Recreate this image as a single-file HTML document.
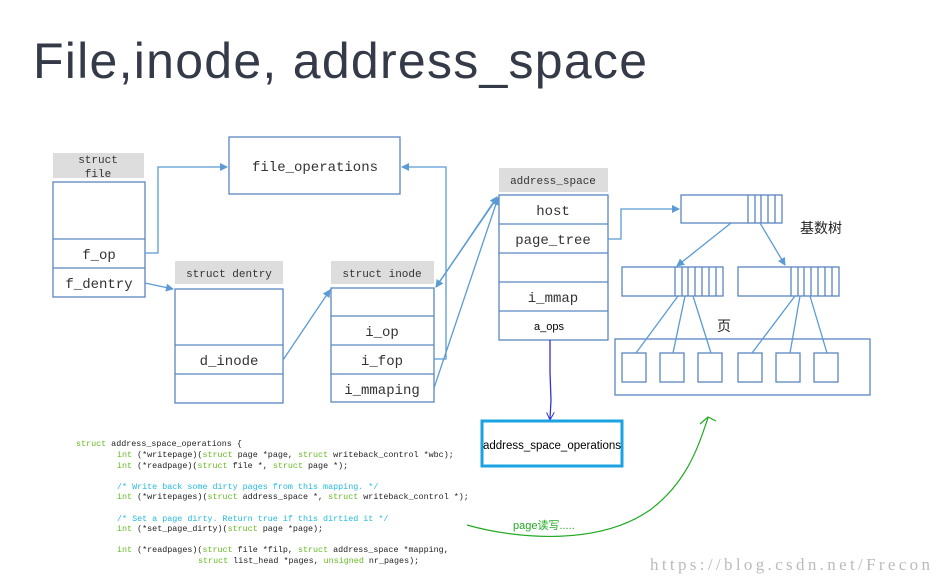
<!DOCTYPE html>
<html><head><meta charset="utf-8"><style>body{margin:0;background:#fff}svg{display:block}</style></head><body>
<svg width="943" height="582" xmlns="http://www.w3.org/2000/svg" font-family="Liberation Mono, monospace">
<defs><marker id="a" markerWidth="8" markerHeight="8" refX="7" refY="4" orient="auto" markerUnits="userSpaceOnUse"><path d="M0,0L8,4L0,8z" fill="#5b9bd5"/></marker>
<marker id="b" markerWidth="8" markerHeight="8" refX="7" refY="4" orient="auto" markerUnits="userSpaceOnUse"><path d="M0,0L8,4L0,8" fill="none" stroke="#3333cc"/></marker></defs>
<text x="33" y="78" font-family="Liberation Sans, sans-serif" font-size="50" fill="#353a48" textLength="614">File,inode, address_space</text>
<g fill="#ddd"><rect x="53" y="153" width="91" height="25"/><rect x="175" y="261" width="108" height="23"/><rect x="331" y="261" width="103" height="23"/><rect x="499" y="168" width="109" height="24"/></g>
<g font-size="11" fill="#333" text-anchor="middle"><text x="98" y="163">struct</text><text x="98" y="177">file</text><text x="229" y="277">struct dentry</text><text x="382" y="277">struct inode</text><text x="553" y="184">address_space</text></g>
<g fill="none" stroke="#5b86c0" stroke-width="1.3">
<rect x="53" y="182" width="92" height="115"/><path d="M53 239H145M53 268H145"/>
<rect x="229" y="137" width="171" height="57"/>
<rect x="175" y="289" width="108" height="114"/><path d="M175 345H283M175 374H283"/>
<rect x="331" y="288" width="103" height="114"/><path d="M331 316H434M331 345H434M331 374H434"/>
<rect x="499" y="195" width="109" height="145"/><path d="M499 224H608M499 253H608M499 282H608M499 311H608"/>
<rect x="681" y="195" width="101" height="28"/><path d="M748 195v28M755 195v28M761 195v28M768 195v28M775 195v28"/>
<rect x="622" y="267" width="101" height="29"/><path d="M675 267v29M682 267v29M688 267v29M695 267v29M702 267v29M709 267v29M716 267v29"/>
<rect x="738" y="267" width="101" height="29"/><path d="M791 267v29M798 267v29M804 267v29M811 267v29M818 267v29M825 267v29M832 267v29"/>
<rect x="615" y="339" width="255" height="56"/>
<rect x="622" y="353" width="24" height="29"/><rect x="660" y="353" width="24" height="29"/><rect x="698" y="353" width="24" height="29"/><rect x="738" y="353" width="24" height="29"/><rect x="776" y="353" width="24" height="29"/><rect x="814" y="353" width="24" height="29"/>
</g>
<g fill="none" stroke="#5b9bd5" stroke-width="1.3">
<path d="M145 253H158V167H227" marker-end="url(#a)"/>
<path d="M145 283L173 289" marker-end="url(#a)"/>
<path d="M283 360L330 290" marker-end="url(#a)"/>
<path d="M434 359H446V167H402" marker-end="url(#a)"/>
<path d="M434 388L498 198" marker-end="url(#a)"/>
<path d="M497 198L436 287" marker-end="url(#a)"/>
<path d="M436 287L497 197" marker-end="url(#a)"/>
<path d="M608 239H621V209H679" marker-end="url(#a)"/>
<path d="M731 223L677 266" marker-end="url(#a)"/>
<path d="M760 223L785 265" marker-end="url(#a)"/>
<path d="M678 296L636 353M685 296L673 353M693 296L711 353M795 296L752 353M800 296L790 353M810 296L827 353"/>
</g>
<path d="M550 340L550 372L551 400L550 419" stroke="#3333cc" stroke-width="1.3" fill="none" marker-end="url(#b)"/>
<rect x="482" y="421" width="140" height="45" fill="none" stroke="#1aa3e0" stroke-width="3"/>
<text x="552" y="449" font-family="Liberation Sans, sans-serif" font-size="11.5" text-anchor="middle" fill="#000">address_space_operations</text>
<g font-size="14" fill="#333" text-anchor="middle"><text x="315" y="171">file_operations</text><text x="99" y="259">f_op</text><text x="99" y="288">f_dentry</text><text x="229" y="365">d_inode</text><text x="382" y="336">i_op</text><text x="382" y="365">i_fop</text><text x="382" y="394">i_mmaping</text><text x="553" y="215">host</text><text x="553" y="244">page_tree</text><text x="553" y="302">i_mmap</text></g>
<text x="549" y="330" font-family="Liberation Sans, sans-serif" font-size="11" text-anchor="middle" fill="#000">a_ops</text>
<text x="800" y="233" font-family="Liberation Sans, Noto Sans CJK SC, sans-serif" font-size="14" fill="#222">基数树</text>
<text x="717" y="331" font-family="Liberation Sans, Noto Sans CJK SC, sans-serif" font-size="14" fill="#222">页</text>
<path d="M467 525C520 540 600 545 650 510C690 480 700 440 708 418M700 424L708 417L716 421" stroke="#22aa22" stroke-width="1.2" fill="none"/>
<text x="513" y="529" font-family="Liberation Sans, Noto Sans CJK SC, sans-serif" font-size="11" fill="#22aa22">page读写.....</text>
<text x="650" y="570" font-family="Liberation Serif, serif" font-size="17" fill="#bbb" textLength="280">https://blog.csdn.net/Frecon</text>
<g font-size="8.4" xml:space="preserve" fill="#222">
<text x="76" y="446"><tspan fill="#66bb22">struct</tspan> address_space_operations {</text>
<text x="117" y="457"><tspan fill="#66bb22">int</tspan> (*writepage)(<tspan fill="#66bb22">struct</tspan> page *page, <tspan fill="#66bb22">struct</tspan> writeback_control *wbc);</text>
<text x="117" y="468"><tspan fill="#66bb22">int</tspan> (*readpage)(<tspan fill="#66bb22">struct</tspan> file *, <tspan fill="#66bb22">struct</tspan> page *);</text>
<text x="117" y="489" fill="#22bbdd">/* Write back some dirty pages from this mapping. */</text>
<text x="117" y="499"><tspan fill="#66bb22">int</tspan> (*writepages)(<tspan fill="#66bb22">struct</tspan> address_space *, <tspan fill="#66bb22">struct</tspan> writeback_control *);</text>
<text x="117" y="521" fill="#22bbdd">/* Set a page dirty.  Return true if this dirtied it */</text>
<text x="117" y="531"><tspan fill="#66bb22">int</tspan> (*set_page_dirty)(<tspan fill="#66bb22">struct</tspan> page *page);</text>
<text x="117" y="552"><tspan fill="#66bb22">int</tspan> (*readpages)(<tspan fill="#66bb22">struct</tspan> file *filp, <tspan fill="#66bb22">struct</tspan> address_space *mapping,</text>
<text x="198" y="563"><tspan fill="#66bb22">struct</tspan> list_head *pages, <tspan fill="#66bb22">unsigned</tspan> nr_pages);</text>
</g>
</svg>
</body></html>
